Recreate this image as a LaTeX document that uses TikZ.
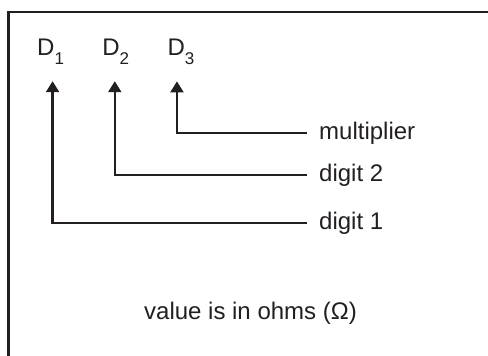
\documentclass[tikz,border=0pt]{standalone}
\usepackage{fontspec}
\setmainfont{Liberation Sans}
\usepackage{tikz}
\usetikzlibrary{positioning, arrows.meta}

\definecolor{ink}{HTML}{231F20}
\newcommand{\dsub}[1]{\raisebox{-9pt}{\fontsize{17}{20}\selectfont #1}}

\begin{document}
\begin{tikzpicture}[
  x=1pt, y=1pt,
  every node/.style={font=\fontsize{24}{28}\selectfont, text=ink, inner sep=0pt},
  digit/.style={anchor=base west},
  tag/.style={anchor=west, inner xsep=12pt},
  lead/.style={draw=ink, line width=2.2pt, -{Triangle[width=13pt,length=11pt]}},
]
  \clip (0,0) rectangle (488,356);
  % frame, runs off the right and bottom edges
  \draw[ink, line width=2.6pt] (8.5,344) rectangle (520,-20);

  % the three digits
  \node[digit] (d1) at (37,300) {D\dsub{1}};
  \node[base right=38pt of d1] (d2) {D\dsub{2}};
  \node[base right=38pt of d2] (d3) {D\dsub{3}};

  % what each one stands for
  \node[tag] (mult) at (307,223) {multiplier};
  \node[tag] (dig2) at (307,181) {digit 2};
  \node[tag] (dig1) at (307,133) {digit 1};

\draw[lead] (mult.west) -| ([xshift=-4pt,yshift=-16pt]d3.south);
\draw[lead] (dig2.west) -| ([xshift=-1pt,yshift=-16pt]d2.south);
\draw[lead] (dig1.west) -| ([xshift=2pt,yshift=-16pt]d1.south);

  \node (unit) at (250.5,43) {value is in ohms (Ω)};
\end{tikzpicture}
\end{document}
